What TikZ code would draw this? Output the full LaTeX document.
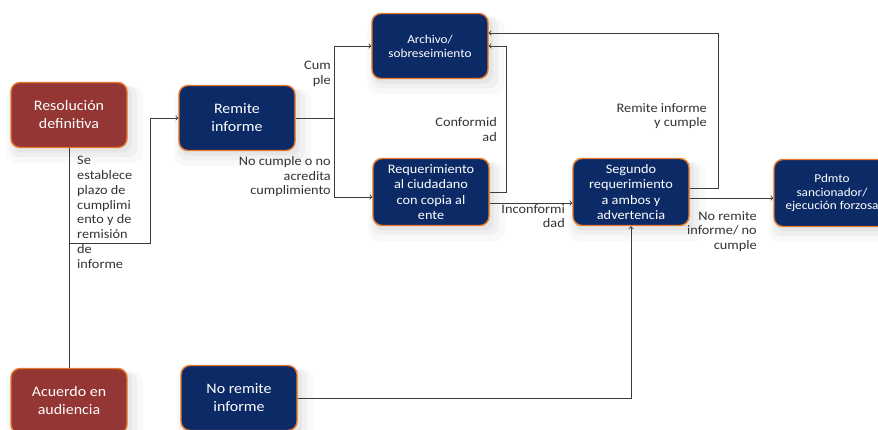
\documentclass[tikz,border=0pt]{standalone}
\usepackage{fontspec}
\setmainfont{Carlito}[FakeStretch=1.1]
\usetikzlibrary{shadows}
\definecolor{vino}{HTML}{943634}
\definecolor{marino}{HTML}{0C2A66}
\definecolor{naranja}{HTML}{E8782A}
\definecolor{linea}{HTML}{3C3C3C}
\begin{document}
\begin{tikzpicture}[x=1pt,y=-1pt,
	sombra/.style={drop shadow={shadow xshift=5pt,shadow yshift=-8pt,shadow scale=1.18,opacity=.05},
		drop shadow={shadow xshift=4pt,shadow yshift=-6pt,shadow scale=1.1,opacity=.07},
		drop shadow={shadow xshift=3pt,shadow yshift=-4pt,shadow scale=1.03,opacity=.09}},
	caja/.style={sombra,draw=naranja,line width=1.4pt,rounded corners=9pt,minimum width=116pt,
		minimum height=65pt,text=white,align=center,inner sep=2pt},
	roja/.style={caja,fill=vino},
	azul/.style={caja,fill=marino},
	grande/.style={font=\fontsize{14.5}{18}\selectfont},
	media/.style={font=\fontsize{13}{15.5}\selectfont},
	chica/.style={font=\fontsize{12}{13.8}\selectfont},
	flecha/.style={->,draw=linea,line width=0.9pt},
	etq/.style={font=\fontsize{13}{14.8}\selectfont,text=black!80,inner sep=0pt}]
	\useasboundingbox (0,0) rectangle (878,429);
	% Cajas
	\node[roja,grande] (resol) at (69,115) {Resolución\\definitiva};
	\node[roja,grande] (acuerdo) at (69,401) {Acuerdo en\\audiencia};
	\node[azul,grande] (remite) at (237,118) {Remite\\informe};
	\node[azul,grande] (noremite) at (239,398) {No remite\\informe};
	\node[azul,chica] (archivo) at (430,46) {Archivo/\\sobreseimiento};
	\node[azul,media,minimum height=67pt] (req) at (431,192) {Requerimiento\\al ciudadano\\con copia al\\ente};
	\node[azul,media,minimum height=67pt] (seg) at (631,192) {Segundo\\requerimiento\\a ambos y\\advertencia};
	\node[azul,chica,minimum height=67pt] (pdmto) at (832,193) {Pdmto\\sancionador/\\ejecución forzosa};
	% Conectores
	\coordinate (rama) at (150,243);
	\coordinate (nudo) at (334,118);
	\coordinate (vuelta) at (718,33);
	\draw[linea,line width=0.9pt] (resol.south) -- (acuerdo.north);
	\draw[flecha] (resol.south |- rama) -- (rama) |- (remite.west);
	\draw[linea,line width=0.9pt] (remite.east) -- (nudo);
	\draw[flecha] (nudo) |- (archivo.west);
	\draw[flecha] (nudo) |- ([yshift=-5pt]req.west);
	\draw[flecha] (req.east) -- ++(17,0) |- (archivo.east);
	\draw[flecha] ([yshift=-11pt]req.east) -- ([yshift=-11pt]seg.west);
	\draw[flecha] ([yshift=4pt]seg.east) -| (vuelta) -- (archivo.east |- vuelta);
	\draw[flecha] ([yshift=-6pt]seg.east) -- ([yshift=-6pt]seg.east -| pdmto.west);
	\draw[flecha] (noremite.east) -| (seg.south);
	% Etiquetas
	\node[etq,anchor=north west,align=left] (plazo) at (77,156) {Se\\establece\\plazo de\\cumplimi\\ento y de\\remisión\\de\\informe};
	\node[etq,anchor=north east,align=right] (cumple) at (331,61) {Cum\\ple};
	\node[etq,anchor=north east,align=right] (nocumple) at (331,156) {No cumple o no\\acredita\\cumplimiento};
	\node[etq,anchor=north east,align=right] (conf) at (497,117) {Conformid\\ad};
	\node[etq,anchor=north east,align=right] (inconf) at (565,204) {Inconformi\\dad};
	\node[etq,anchor=north east,align=right] (remcumple) at (707,103) {Remite informe\\y cumple};
	\node[etq,anchor=north east,align=right] (noremcumple) at (757,211) {No remite\\informe/ no\\cumple};
\end{tikzpicture}
\end{document}
